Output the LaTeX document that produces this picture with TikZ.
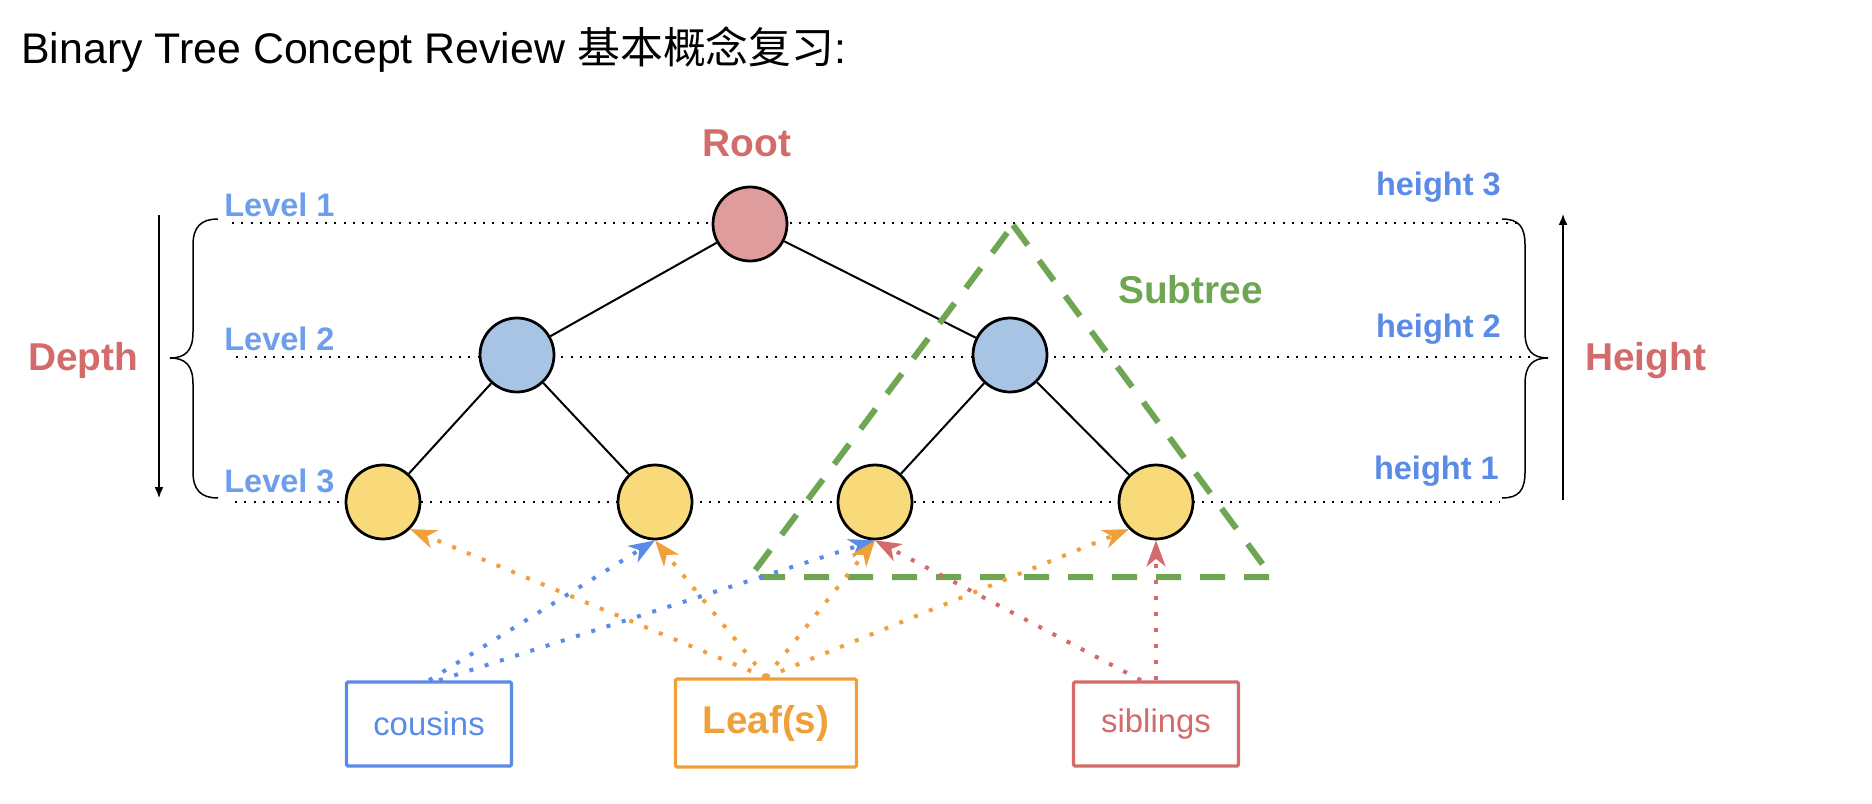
\documentclass[tikz,border=0pt]{standalone}
\usepackage{fontspec}
\setmainfont{Liberation Sans}
\newfontfamily\cjk{Noto Sans CJK SC}
\usetikzlibrary{arrows.meta}

\definecolor{rootfill}{HTML}{DE9C9C}
\definecolor{midfill}{HTML}{A7C4E5}
\definecolor{leaffill}{HTML}{F8DA7A}
\definecolor{tred}{HTML}{D26B6A}
\definecolor{lblue}{HTML}{6D9EEB}
\definecolor{hblue}{HTML}{5A8BE6}
\definecolor{tgreen}{HTML}{6FA654}
\definecolor{torange}{HTML}{F0A038}

\begin{document}
\begin{tikzpicture}[x=0.02cm,y=-0.02cm,
    tnode/.style={circle,draw,line width=0.055cm,minimum size=1.48cm,inner sep=0pt},
    lvl/.style={line width=0.04cm,dash pattern=on 0.04cm off 0.146cm},
    branch/.style={line width=0.04cm},
    ptr/.style={line width=0.08cm,dash pattern=on 0.08cm off 0.24cm,-{Stealth[length=0.52cm,width=0.38cm,inset=0.15cm]}},
    lbox/.style={draw,line width=0.066cm,minimum width=3.3cm,minimum height=1.68cm,inner sep=0pt,rounded corners=0.03cm},
    big/.style={inner sep=0pt,font=\bfseries\fontsize{22.1}{26}\selectfont},
    small/.style={inner sep=0pt,font=\bfseries\fontsize{18.5}{22}\selectfont},
    brace/.style={line width=0.03cm},
    axis/.style={line width=0.03cm,-{Latex[length=0.22cm,width=0.18cm]}}]
\useasboundingbox (0,0) rectangle (1872,804);

        \node at (21,64) [anchor=base west,inner sep=0pt,font=\fontsize{24.4}{29}\selectfont] (t100) {Binary Tree Concept Review {\cjk 基本概念复习}:};

        \draw[lvl] (232,223) -- (1522,223);
        \draw[lvl] (236,357) -- (1535,357);
        \draw[lvl] (235,502) -- (1500,502);

        \node at (750,224) [tnode,fill=rootfill] (n100) {};
        \node at (517,355) [tnode,fill=midfill] (n210) {};
        \node at (1010,355) [tnode,fill=midfill] (n220) {};
        \node at (383,502) [tnode,fill=leaffill] (n310) {};
        \node at (655,502) [tnode,fill=leaffill] (n320) {};
        \node at (875,502) [tnode,fill=leaffill] (n330) {};
        \node at (1156,502) [tnode,fill=leaffill] (n340) {};
        \draw[branch] (n100)--(n210);
        \draw[branch] (n100)--(n220);
        \draw[branch] (n210)--(n310);
        \draw[branch] (n210)--(n320);
        \draw[branch] (n220)--(n330);
        \draw[branch] (n220)--(n340);

        \node at (747,157) [big,anchor=base,text=tred] (t200) {Root};
        \node at (224,216) [small,anchor=base west,text=lblue] (t310) {Level 1};
        \node at (224,350) [small,anchor=base west,text=lblue] (t320) {Level 2};
        \node at (224,492) [small,anchor=base west,text=lblue] (t330) {Level 3};
        \node at (1501,195) [small,anchor=base east,text=hblue] (t410) {height 3};
        \node at (1501,337) [small,anchor=base east,text=hblue] (t420) {height 2};
        \node at (1499,479) [small,anchor=base east,text=hblue] (t430) {height 1};
        \node at (28,370) [big,anchor=base west,text=tred] (t500) {Depth};
        \node at (1585,370) [big,anchor=base west,text=tred] (t600) {Height};
        \node at (1118,303) [big,anchor=base west,text=tgreen] (t700) {Subtree};

        \draw[brace] (218,219) .. controls (201,219) and (193,227) .. (193,245) -- (193,332) .. controls (193,350) and (186,358) .. (170,358) .. controls (186,358) and (193,366) .. (193,384) -- (193,472) .. controls (193,490) and (201,498) .. (218,498);
        \draw[brace] (1502,219) .. controls (1519,219) and (1525,227) .. (1525,245) -- (1525,332) .. controls (1525,350) and (1532,358) .. (1548,358) .. controls (1532,358) and (1525,366) .. (1525,384) -- (1525,472) .. controls (1525,490) and (1519,498) .. (1502,498);
        \coordinate (d100) at (159,215);
        \coordinate (d200) at (159,498);
        \coordinate (h100) at (1563,500);
        \coordinate (h200) at (1563,214);
        \draw[axis] (d100)--(d200);
        \draw[axis] (h100)--(h200);

        \draw[tgreen,line width=0.12cm,dash pattern=on 0.5cm off 0.38cm] (1013,225) -- (1272,577) -- (750,577) -- cycle;

        \node at (429,724) [lbox,draw=hblue,text=hblue,font=\fontsize{18.7}{22}\selectfont] (c100) {cousins};
        \node at (766,723) [lbox,draw=torange,text=torange,minimum width=3.62cm,minimum height=1.76cm,font=\bfseries\fontsize{22}{26}\selectfont] (c200) {Leaf(s)};
        \node at (1156,724) [lbox,draw=tred,text=tred,font=\fontsize{18.7}{22}\selectfont] (c300) {siblings};

        \draw[ptr,hblue] (c100.north) -- (n320.south);
        \draw[ptr,hblue] ([xshift=0.2cm]c100.north) -- (n330.south);
        \draw[ptr,torange] (c200.north) -- (n310.south east);
        \draw[ptr,torange] (c200.north) -- (n320.south);
        \draw[ptr,torange] (c200.north) -- (n330.south);
        \draw[ptr,torange] (c200.north) -- (n340.south west);
        \draw[ptr,tred] ([xshift=-0.3cm]c300.north) -- (n330.south);
        \draw[ptr,tred] (c300.north) -- (n340.south);
\end{tikzpicture}
\end{document}
